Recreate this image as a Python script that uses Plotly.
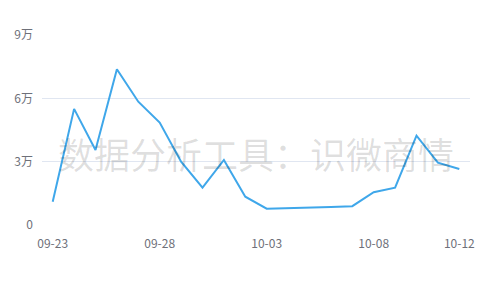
import plotly.graph_objects as go

dates = ["09-23", "09-24", "09-25", "09-26", "09-27", "09-28", "09-29", "09-30",
         "10-01", "10-02", "10-03", "10-04", "10-05", "10-06", "10-07", "10-08",
         "10-09", "10-10", "10-11", "10-12"]
values = [11000, 55000, 35500, 73800, 58400, 48500, 30000, 17700,
          30800, 13400, 7700, 7900, 8200, 8500, 8900, 15500,
          17700, 42300, 29500, 26500]
tick_idx = [0, 5, 10, 15, 19]
y_ticks = [0, 30000, 60000, 90000]
y_labels = ["0", "3万", "6万", "9万"]
watermark = "数据分析工具：识微商情"

fig = go.Figure()
fig.add_trace(go.Scatter(
    x=list(range(len(dates))), y=values, mode="lines",
    line=dict(color="#3fa7ea", width=2), hoverinfo="skip"))

fig.update_layout(
    width=500, height=300,
    margin=dict(l=42, r=30, t=35, b=75),
    paper_bgcolor="white", plot_bgcolor="white",
    showlegend=False,
    font=dict(family="Noto Sans CJK SC", size=12, color="#6e7079"),
    xaxis=dict(range=[-0.5, len(dates) - 0.5],
               tickvals=tick_idx, ticktext=[dates[i] for i in tick_idx],
               showgrid=False, zeroline=False, showline=False,
               ticks="", ticklen=0, ticklabelstandoff=10,
               tickfont=dict(size=12, color="#6e7079")),
    yaxis=dict(range=[0, 90000], tickvals=y_ticks, ticktext=y_labels,
               showgrid=True, gridcolor="#e0e6f1", gridwidth=1,
               zeroline=False, showline=False, ticks="",
               ticklabelstandoff=8,
               tickfont=dict(size=12, color="#6e7079")),
    annotations=[dict(text=watermark, xref="paper", yref="paper",
                      x=0.5, y=0.38, showarrow=False,
                      font=dict(size=36, color="rgba(0,0,0,0.13)",
                                family="Noto Sans CJK SC"))]
)

fig.write_html("out.html")
